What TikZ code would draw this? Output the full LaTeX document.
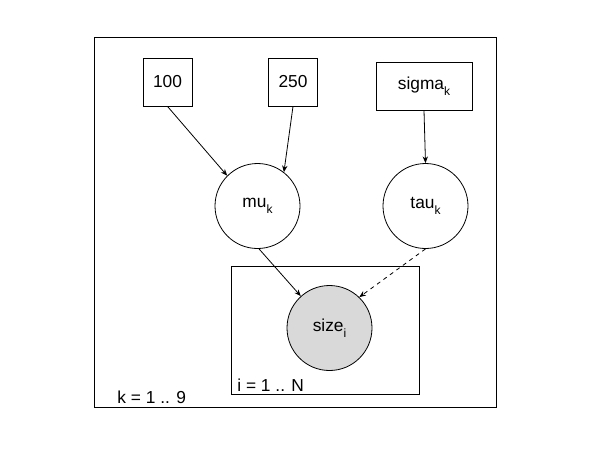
\documentclass[tikz,border=0pt]{standalone}
\usepackage{fontspec}
\setmainfont{Liberation Sans}
\usetikzlibrary{arrows.meta}
\newcommand{\lowidx}[1]{\raisebox{-0.6ex}{\fontsize{9}{10}\selectfont #1}}
\begin{document}
\begin{tikzpicture}[x=0.75pt,y=-0.75pt,line width=0.6pt,
    font=\fontsize{13}{15}\selectfont,
    const/.style={draw,rectangle,minimum width=36.75pt,minimum height=36pt,inner sep=0pt},
    latent/.style={draw,circle,minimum size=63.75pt,inner sep=0pt},
    observed/.style={latent,fill=black!15},
    edge/.style={-{Stealth[length=5pt,width=4pt]}}]
  \useasboundingbox (0,0) rectangle (589,455);

  % plates
  \draw (94,37) rectangle (496,407);
  \draw (231,266) rectangle (419,394);
  \node[anchor=base west,inner sep=0pt] (kplate) at (117,403) {k = 1 .. 9};
  \node[anchor=base west,inner sep=0pt] (iplate) at (237,391) {i = 1 .. N};

  % nodes
  \node[const] (c100) at (167.5,82) {100};
  \node[const] (c250) at (293,82) {250};
  \node[const,minimum width=72pt] (sigma) at (424,86) {sigma\lowidx{k}};
  \node[latent] (mu) at (257.5,206) {mu\lowidx{k}};
  \node[latent] (tau) at (425.5,206) {tau\lowidx{k}};
  \node[observed] (size) at (329.5,328) {size\lowidx{i}};

  % edges
  \draw[edge] (c100.south) -- (mu.135);
  \draw[edge] (c250.south) -- (mu.52);
  \draw[edge] (sigma.south) -- (tau.north);
  \draw[edge] (mu.-88) -- (size.132);
  \draw[edge,dashed] (tau.south) -- (size.46);
\end{tikzpicture}
\end{document}
